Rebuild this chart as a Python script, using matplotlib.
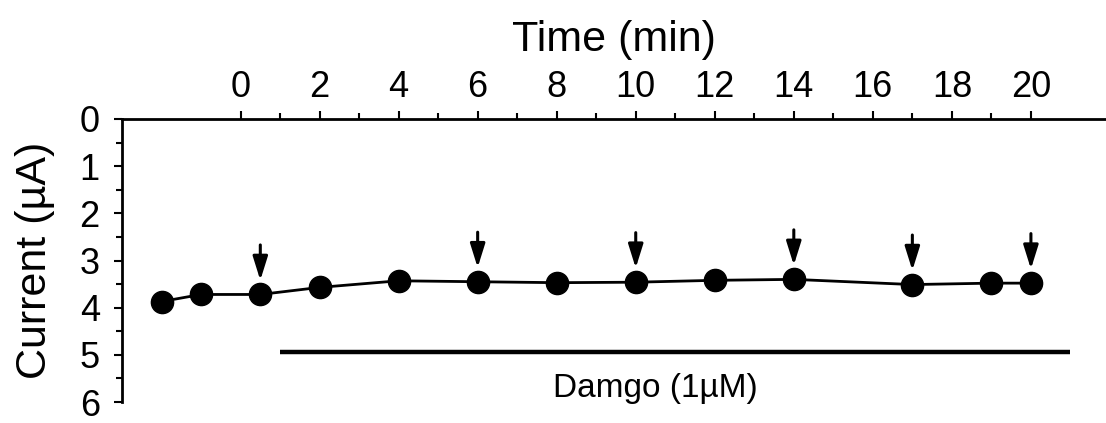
import matplotlib.pyplot as plt
from matplotlib.ticker import FixedLocator, MultipleLocator

plt.rcParams['font.family'] = ['Liberation Sans', 'DejaVu Sans']

# Time (min) and current (uA)
times = [-2, -1, 0.5, 2, 4, 6, 8, 10, 12, 14, 17, 19, 20]
current = [3.87, 3.72, 3.72, 3.57, 3.43, 3.45, 3.47, 3.46, 3.42, 3.40, 3.51, 3.48, 3.48]

# Arrow marks (times)
arrow_times = [0.5, 6, 10, 14, 17, 20]

# Damgo application period
damgo_start, damgo_end, damgo_level = 1, 21, 4.93
damgo_label = 'Damgo (1\u00b5M)'

fig = plt.figure(figsize=(11.06, 4.23), dpi=100)
ax = fig.add_axes([0.1103, 0.0496, 0.8897, 0.6691])

ax.plot(times, current, color='black', lw=2, marker='o', markersize=16, zorder=3)

for t in arrow_times:
    v = current[times.index(t)]
    ax.annotate('', xy=(t, v - 0.30), xytext=(t, v - 1.05),
                arrowprops=dict(arrowstyle='-|>,head_length=0.8,head_width=0.25',
                                color='black', lw=2.2, mutation_scale=18,
                                shrinkA=0, shrinkB=0))

ax.plot([damgo_start, damgo_end], [damgo_level, damgo_level], color='black',
        lw=3.2, solid_capstyle='butt')
ax.text(10.5, 5.72, damgo_label, ha='center', va='center', fontsize=24)

ax.set_xlim(-3, 21.9)
ax.set_ylim(6, 0)

ax.xaxis.tick_top()
ax.xaxis.set_label_position('top')
ax.xaxis.set_major_locator(FixedLocator(range(0, 21, 2)))
ax.xaxis.set_minor_locator(FixedLocator(range(1, 20, 2)))
ax.yaxis.set_major_locator(MultipleLocator(1))
ax.yaxis.set_minor_locator(MultipleLocator(0.5))

ax.set_xlabel('Time (min)', fontsize=31, labelpad=14)
ax.set_ylabel('Current (\u00b5A)', fontsize=31, labelpad=18)

ax.tick_params(which='major', direction='out', length=6, width=1.5,
               labelsize=26, pad=4)
ax.tick_params(which='minor', direction='out', length=4, width=1.5)
ax.tick_params(axis='y', which='major', pad=10)

for side in ['right', 'bottom']:
    ax.spines[side].set_visible(False)
for side in ['top', 'left']:
    ax.spines[side].set_linewidth(2)

fig.savefig('out.png', dpi=100)
